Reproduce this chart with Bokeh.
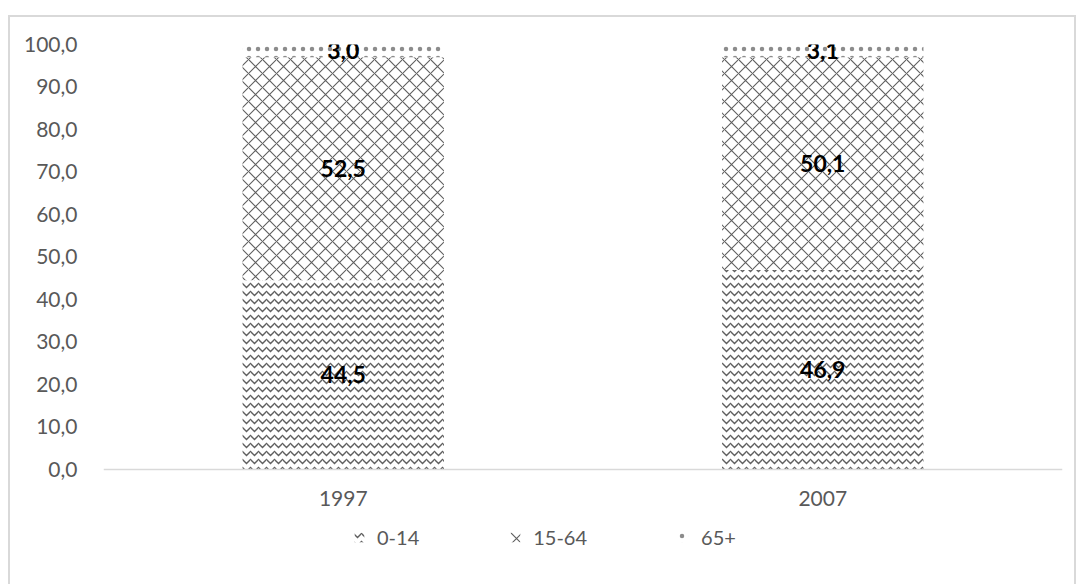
from bokeh.plotting import figure
from bokeh.models import (ColumnDataSource, FactorRange, FixedTicker,
                          CustomJSTickFormatter, Legend)
from bokeh.core.properties import value
from bokeh.embed import file_html
from bokeh.resources import INLINE

# Population share by age group (%)
years = ["1997", "2007"]
age_0_14 = [44.5, 46.9]
age_15_64 = [52.5, 50.1]
age_65_plus = [3.0, 3.1]
groups = ["0-14", "15-64", "65+"]
y_ticks = [0, 10, 20, 30, 40, 50, 60, 70, 80, 90, 100]

FONT = "Lato"
GREY_TEXT = "#595959"
HATCH = "#5f5f5f"

src = ColumnDataSource(dict(year=years, a=age_0_14, b=age_15_64, c=age_65_plus))

# the frame reaches below zero so the legend row sits inside it
p = figure(x_range=FactorRange(*years), y_range=(-25, 100),
           width=1064, height=580, frame_width=959, frame_height=531,
           output_backend="svg", toolbar_location=None,
           min_border_left=93, min_border_right=12, min_border_top=27,
           min_border_bottom=22)
# light frame around the whole chart area
p.styles = {"margin-left": "8px", "margin-top": "15px",
            "border": "2px solid #d9d9d9"}

renderers = p.vbar_stack(["a", "b", "c"], x="year", width=0.42, source=src,
                         fill_color="white", line_color=None,
                         hatch_color=[HATCH, HATCH, "#8c8c8c"],
                         hatch_weight=[1.4, 1.1, 1.0],
                         hatch_pattern=["horizontal_wave", "diagonal_cross", "dot"],
                         hatch_scale=[8, 14, 9])

# value labels centred in each segment
lab_x, lab_y, lab_t = [], [], []
for i, yr in enumerate(years):
    base = 0.0
    for seg in (age_0_14[i], age_15_64[i], age_65_plus[i]):
        lab_x.append(yr)
        lab_y.append(base + seg / 2)
        lab_t.append(f"{seg:.1f}".replace(".", ","))
        base += seg
p.text(x="x", y="y", text="t",
       source=ColumnDataSource(dict(x=lab_x, y=lab_y, t=lab_t)),
       text_align="center", text_baseline="middle", text_color="black",
       text_font=value(FONT), text_font_style="bold", text_font_size="23px")

p.outline_line_color = None
p.xgrid.grid_line_color = None
p.ygrid.grid_line_color = None

p.yaxis.ticker = FixedTicker(ticks=y_ticks)
p.yaxis.formatter = CustomJSTickFormatter(code="return tick.toFixed(1).replace('.', ',');")
p.yaxis.axis_line_color = None
p.yaxis.major_tick_line_color = None
p.yaxis.minor_tick_line_color = None
p.yaxis.major_label_standoff = 20

# category axis drawn along the zero line
p.xaxis.fixed_location = 0
p.xaxis.axis_line_color = "#d9d9d9"
p.xaxis.axis_line_width = 1.5
p.xaxis.major_tick_line_color = None
p.xaxis.minor_tick_line_color = None
p.xaxis.major_label_standoff = 16

for ax in (p.xaxis, p.yaxis):
    ax.major_label_text_font = FONT
    ax.major_label_text_font_size = "21px"
    ax.major_label_text_color = GREY_TEXT

legend = Legend(items=[(g, [r]) for g, r in zip(groups, renderers)],
                orientation="horizontal", location=(250, 26),
                spacing=90, label_standoff=12, glyph_width=12, glyph_height=12,
                label_text_font=FONT, label_text_font_size="20px",
                label_text_color=GREY_TEXT, border_line_color=None,
                background_fill_alpha=0, margin=0, padding=6)
p.add_layout(legend, "center")

open("out.html", "w").write(file_html(p, INLINE))
